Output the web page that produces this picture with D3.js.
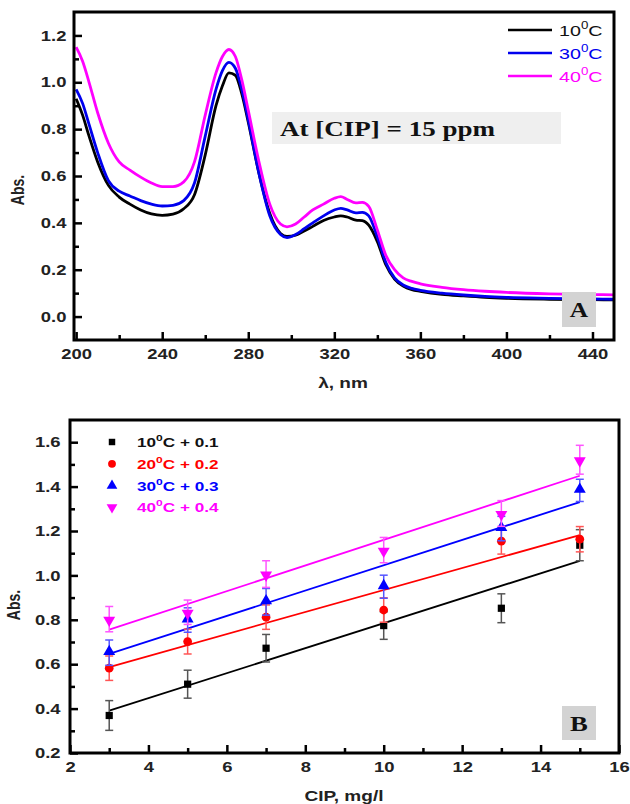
<!DOCTYPE html>
<html><head><meta charset="utf-8">
<script src="https://cdn.jsdelivr.net/npm/d3@7"></script>
<style>body{margin:0;background:#fff} svg{display:block}</style>
</head><body>
<svg id="c" width="630" height="804"></svg>
<script>
// ---------- Panel A data ----------
const wavelengths = [200,203,206,210,215,220,225,230,235,240,245,250,255,260,265,268,271,274,277,280,285,290,295,298,302,306,310,315,320,323,326,330,333,336,340,344,348,352,356,360,370,380,390,400,420,440,450];
const abs10C = [0.93,0.86,0.77,0.66,0.56,0.51,0.48,0.455,0.438,0.432,0.437,0.46,0.52,0.69,0.90,0.985,1.04,1.03,0.95,0.83,0.61,0.44,0.355,0.342,0.347,0.365,0.385,0.41,0.425,0.43,0.425,0.412,0.41,0.39,0.32,0.22,0.16,0.13,0.115,0.108,0.095,0.088,0.082,0.078,0.074,0.072,0.071];
const abs30C = [0.97,0.91,0.82,0.70,0.58,0.535,0.515,0.495,0.48,0.472,0.475,0.495,0.57,0.77,0.97,1.05,1.085,1.06,0.97,0.84,0.61,0.43,0.35,0.337,0.35,0.375,0.40,0.43,0.455,0.462,0.455,0.443,0.445,0.43,0.34,0.23,0.165,0.135,0.12,0.112,0.10,0.092,0.086,0.082,0.078,0.075,0.074];
const abs40C = [1.15,1.09,1.00,0.87,0.74,0.66,0.625,0.595,0.57,0.555,0.555,0.575,0.66,0.86,1.04,1.11,1.14,1.11,1.01,0.88,0.66,0.48,0.395,0.383,0.395,0.425,0.455,0.48,0.505,0.512,0.50,0.485,0.487,0.47,0.37,0.26,0.20,0.165,0.15,0.14,0.125,0.115,0.108,0.103,0.097,0.094,0.093];
const spectraTemps = ["10","30","40"];
const xTicksA = [200,240,280,320,360,400,440];
const yTicksA = [0.0,0.2,0.4,0.6,0.8,1.0,1.2];

// ---------- Panel B data ----------
const cipConc = [3,5,7,10,13,15];
const absB10 = [0.369,0.510,0.672,0.774,0.852,1.136];
const errB10 = [0.067,0.063,0.062,0.062,0.065,0.070];
const absB20 = [0.582,0.702,0.812,0.844,1.154,1.163];
const errB20 = [0.055,0.056,0.055,0.055,0.058,0.057];
const absB30 = [0.652,0.799,0.881,0.949,1.211,1.383];
const errB30 = [0.057,0.055,0.060,0.052,0.055,0.050];
const absB40 = [0.803,0.834,1.006,1.114,1.279,1.521];
const errB40 = [0.057,0.055,0.060,0.057,0.058,0.065];
const seriesTempsB = ["10","20","30","40"];
const seriesOffsetsB = ["0.1","0.2","0.3","0.4"];
const xTicksB = [2,4,6,8,10,12,14,16];
const yTicksB = [0.2,0.4,0.6,0.8,1.0,1.2,1.4,1.6];

const svg = d3.select("#c");
const FONT = "'Liberation Sans', Arial, sans-serif";
const SERIF = "'Liberation Serif', 'Times New Roman', serif";
const SX = 1.27; // horizontal stretch of the original picture's lettering

function axisStyle(g, sw) {
  g.select(".domain").remove();
  g.selectAll(".tick line").attr("stroke", "#000").attr("stroke-width", sw);
  g.selectAll(".tick text").attr("font-family", FONT).attr("font-weight", "bold")
    .attr("font-size", 14.5).attr("fill", "#222").attr("transform", `scale(${SX},1)`);
}
function label(g, x, y, rot) {
  return g.append("text").attr("transform", rot ? `translate(${x},${y}) rotate(-90) scale(1,${SX})` : `translate(${x},${y}) scale(${SX},1)`);
}

// ================= Panel A =================
{
  const x = d3.scaleLinear().domain([199, 450]).range([74, 614]);
  const y = d3.scaleLinear().domain([-0.1, 1.3]).range([340, 12]);
  const g = svg.append("g");
  g.append("clipPath").attr("id", "clipA").append("rect")
    .attr("x", 74).attr("y", 12).attr("width", 540).attr("height", 328);

  const minorX = d3.range(220, 450, 40);
  const minorY = d3.range(0.1, 1.25, 0.2);
  g.append("g").attr("transform", "translate(0,340)")
    .call(d3.axisBottom(x).tickValues(minorX).tickSizeInner(-5).tickSizeOuter(0).tickFormat(""))
    .call(a => axisStyle(a, 2.5));
  g.append("g").attr("transform", "translate(74,0)")
    .call(d3.axisLeft(y).tickValues(minorY).tickSizeInner(-5).tickSizeOuter(0).tickFormat(""))
    .call(a => axisStyle(a, 2.5));
  g.append("g").attr("transform", "translate(0,340)")
    .call(d3.axisBottom(x).tickValues(xTicksA).tickSizeInner(-8).tickSizeOuter(0).tickPadding(9).tickFormat(d3.format("d")))
    .call(a => axisStyle(a, 2.5));
  g.append("g").attr("transform", "translate(74,0)")
    .call(d3.axisLeft(y).tickValues(yTicksA).tickSizeInner(-8).tickSizeOuter(0).tickPadding(6).tickFormat(d3.format(".1f")))
    .call(a => axisStyle(a, 2.5));

  const series = [abs10C, abs30C, abs40C];
  const colors = ["#000000", "#0000ee", "#ff00ff"];
  const line = d3.line().x((d, i) => x(wavelengths[i])).y(d => y(d)).curve(d3.curveMonotoneX);
  const cg = g.append("g").attr("clip-path", "url(#clipA)");
  series.forEach((s, k) => {
    cg.append("path").datum(s).attr("d", line).attr("fill", "none")
      .attr("stroke", colors[k]).attr("stroke-width", 2.8).attr("stroke-linejoin", "round");
  });

  g.append("rect").attr("x", 74).attr("y", 12).attr("width", 540).attr("height", 328)
    .attr("fill", "none").attr("stroke", "#000").attr("stroke-width", 3);

  // legend
  spectraTemps.forEach((t, k) => {
    const ly = 30 + k * 23;
    g.append("line").attr("x1", 508).attr("x2", 552).attr("y1", ly).attr("y2", ly)
      .attr("stroke", colors[k]).attr("stroke-width", 2.5);
    const tx = label(g, 559, ly + 6).attr("font-family", FONT)
      .attr("font-size", 15.5).attr("fill", k === 0 ? "#111" : colors[k]);
    tx.append("tspan").text(t);
    tx.append("tspan").attr("dy", -7).attr("font-size", 10.5).text("0");
    tx.append("tspan").attr("dy", 7).text("C");
  });

  // annotation box
  g.append("rect").attr("x", 272).attr("y", 112).attr("width", 289).attr("height", 32).attr("fill", "#efefef");
  g.append("text").attr("x", 280).attr("y", 136).attr("font-family", SERIF).attr("font-weight", "bold")
    .attr("font-size", 20).attr("fill", "#111").attr("textLength", 215).attr("lengthAdjust", "spacingAndGlyphs")
    .text("At [CIP] = 15 ppm");

  // A label
  g.append("rect").attr("x", 562).attr("y", 292).attr("width", 34).attr("height", 35).attr("fill", "#d3d3d3");
  label(g, 579, 317).attr("text-anchor", "middle").attr("font-family", SERIF)
    .attr("font-weight", "bold").attr("font-size", 20).attr("fill", "#111").text("A");

  label(g, 24, 190, true).attr("text-anchor", "middle")
    .attr("font-family", FONT).attr("font-weight", "bold").attr("font-size", 14).attr("fill", "#222").text("Abs.");
  label(g, 343, 388).attr("text-anchor", "middle")
    .attr("font-family", FONT).attr("font-weight", "bold").attr("font-size", 15).attr("fill", "#222").text("λ, nm");
}

// ================= Panel B =================
{
  const x = d3.scaleLinear().domain([2, 16]).range([70, 619]);
  const y = d3.scaleLinear().domain([0.2, 1.7]).range([753, 420]);
  const g = svg.append("g");

  const minorX = d3.range(3, 16, 2);
  const minorY = d3.range(0.3, 1.65, 0.2);
  g.append("g").attr("transform", "translate(0,753)")
    .call(d3.axisBottom(x).tickValues(minorX).tickSizeInner(-5).tickSizeOuter(0).tickFormat(""))
    .call(a => axisStyle(a, 2.5));
  g.append("g").attr("transform", "translate(70,0)")
    .call(d3.axisLeft(y).tickValues(minorY).tickSizeInner(-5).tickSizeOuter(0).tickFormat(""))
    .call(a => axisStyle(a, 2.5));
  g.append("g").attr("transform", "translate(0,753)")
    .call(d3.axisBottom(x).tickValues(xTicksB).tickSizeInner(-8).tickSizeOuter(0).tickPadding(9).tickFormat(d3.format("d")))
    .call(a => axisStyle(a, 2.5));
  g.append("g").attr("transform", "translate(70,0)")
    .call(d3.axisLeft(y).tickValues(yTicksB).tickSizeInner(-8).tickSizeOuter(0).tickPadding(7.5).tickFormat(d3.format(".1f")))
    .call(a => axisStyle(a, 2.5));

  const vals = [absB10, absB20, absB30, absB40];
  const errs = [errB10, errB20, errB30, errB40];
  const colors = ["#000000", "#ff0000", "#0000ff", "#ff00ff"];
  const errColors = ["#555555", "#ff5555", "#5555ff", "#ff55ff"];
  const symbols = [d3.symbolSquare, d3.symbolCircle, d3.symbolTriangle, d3.symbolTriangle];
  const symSizes = [52, 60, 62, 62];
  const rotations = [0, 0, 0, 180];

  function regression(xs, ys) {
    const mx = d3.mean(xs), my = d3.mean(ys);
    let sxy = 0, sxx = 0;
    xs.forEach((v, i) => { sxy += (v - mx) * (ys[i] - my); sxx += (v - mx) * (v - mx); });
    const b = sxy / sxx; return [my - b * mx, b];
  }

  vals.forEach((v, k) => {
    const [a, b] = regression(cipConc, v);
    const x0 = cipConc[0], x1 = cipConc[cipConc.length - 1];
    g.append("line").attr("x1", x(x0)).attr("y1", y(a + b * x0)).attr("x2", x(x1)).attr("y2", y(a + b * x1))
      .attr("stroke", colors[k]).attr("stroke-width", 1.8);
  });

  vals.forEach((v, k) => {
    const sg = g.append("g");
    cipConc.forEach((c, i) => {
      const cx = x(c), top = y(v[i] + errs[k][i]), bot = y(v[i] - errs[k][i]);
      sg.append("line").attr("x1", cx).attr("x2", cx).attr("y1", top).attr("y2", bot)
        .attr("stroke", errColors[k]).attr("stroke-width", 1.5);
      [top, bot].forEach(yy => sg.append("line").attr("x1", cx - 4).attr("x2", cx + 4).attr("y1", yy).attr("y2", yy)
        .attr("stroke", errColors[k]).attr("stroke-width", 1.5));
    });
    cipConc.forEach((c, i) => {
      sg.append("path").attr("d", d3.symbol().type(symbols[k]).size(symSizes[k])())
        .attr("transform", `translate(${x(c)},${y(v[i]) + (k >= 2 ? (k === 2 ? -1 : 1) : 0)}) rotate(${rotations[k]})`)
        .attr("fill", colors[k]);
    });
  });

  g.append("rect").attr("x", 70).attr("y", 420).attr("width", 549).attr("height", 333)
    .attr("fill", "none").attr("stroke", "#000").attr("stroke-width", 3);

  // legend
  seriesTempsB.forEach((t, k) => {
    const ly = 442 + k * 21.8;
    g.append("path").attr("d", d3.symbol().type(symbols[k]).size(symSizes[k] * 0.8)())
      .attr("transform", `translate(112,${ly}) rotate(${rotations[k]})`).attr("fill", colors[k]);
    const tx = label(g, 137, ly + 5).attr("font-family", FONT)
      .attr("font-weight", "bold").attr("font-size", 13.5).attr("fill", colors[k] === "#000000" ? "#111" : colors[k]);
    tx.append("tspan").text(t);
    tx.append("tspan").attr("dy", -6).attr("font-size", 9.5).text("0");
    tx.append("tspan").attr("dy", 6).text("C + " + seriesOffsetsB[k]);
  });

  g.append("rect").attr("x", 562).attr("y", 706).attr("width", 34).attr("height", 34).attr("fill", "#d3d3d3");
  label(g, 579, 731).attr("text-anchor", "middle").attr("font-family", SERIF)
    .attr("font-weight", "bold").attr("font-size", 21).attr("fill", "#111").text("B");

  label(g, 20, 605, true).attr("text-anchor", "middle")
    .attr("font-family", FONT).attr("font-weight", "bold").attr("font-size", 14).attr("fill", "#222").text("Abs.");
  label(g, 344, 801).attr("text-anchor", "middle")
    .attr("font-family", FONT).attr("font-weight", "bold").attr("font-size", 15).attr("fill", "#222").text("CIP, mg/l");
}
</script>
</body></html>
